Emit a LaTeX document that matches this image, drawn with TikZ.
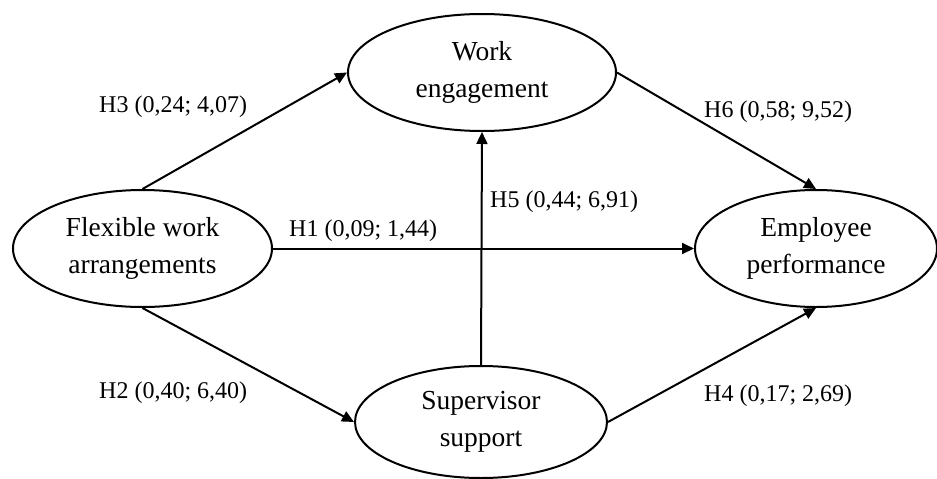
\documentclass[tikz,border=0pt]{standalone}
\usepackage{fontspec}
\setmainfont{Liberation Serif}
\usetikzlibrary{shapes.geometric,arrows.meta}
\begin{document}
\begin{tikzpicture}[x=1pt,y=-1pt,
  construct/.style={ellipse,draw,line width=2pt,inner sep=0pt,align=center,
    font=\fontsize{27.5}{37}\selectfont},
  path/.style={line width=2pt,-{Triangle[length=12pt,width=11pt]}},
  lab/.style={anchor=base west,inner sep=0pt,font=\fontsize{24}{28}\selectfont}]
\useasboundingbox (0,0) rectangle (937,479);
\node[construct,minimum width=268pt,minimum height=117pt] (we) at (482,72.5) {Work\\engagement};
\node[construct,minimum width=259pt,minimum height=117pt] (fw) at (142.5,248.5) {Flexible work\\arrangements};
\node[construct,minimum width=242pt,minimum height=117pt] (ep) at (816,248.5) {Employee\\performance};
\node[construct,minimum width=252pt,minimum height=112pt] (ss) at (481,422) {Supervisor\\support};
\draw[path] (fw.north) -- (we.west);
\draw[path] (fw.east) -- (ep.west);
\draw[path] (fw.south) -- (ss.west);
\draw[path] (ss.north) -- (we.south);
\draw[path] (we.east) -- (ep.north);
\draw[path] (ss.east) -- (ep.south);
\node[lab] (l3) at (99,112.7) {H3 (0,24; 4,07)};
\node[lab] (l1) at (289,236) {H1 (0,09; 1,44)};
\node[lab] (l2) at (99,398) {H2 (0,40; 6,40)};
\node[lab] (l5) at (490,207) {H5 (0,44; 6,91)};
\node[lab] (l6) at (704,117) {H6 (0,58; 9,52)};
\node[lab] (l4) at (704,401) {H4 (0,17; 2,69)};
\end{tikzpicture}
\end{document}
